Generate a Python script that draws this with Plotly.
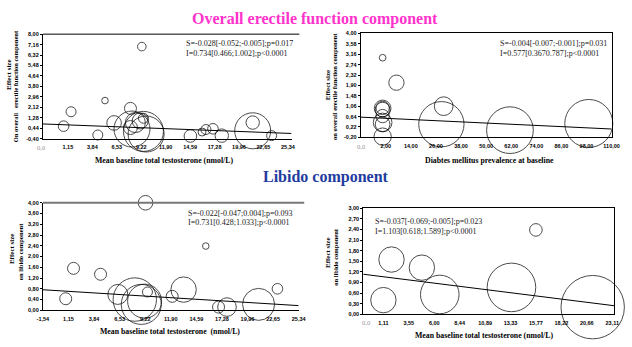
import plotly.graph_objects as go

W, H = 632, 347

# ---------------- data ----------------
# Panel 1: overall erectile function vs mean baseline testosterone
p1_x = [0.68, 1.50, 5.23, 4.44, 9.28, 6.23, 8.03, 8.20, 9.46, 9.75, 8.57, 9.10, 9.46, 8.03,
        14.62, 15.90, 16.33, 17.10, 18.07, 21.47, 21.47, 23.55]
p1_y = [0.60, 1.76, 2.66, -0.11, 7.00, 0.86, 2.03, 0.37, 0.18, -0.03, 0.89, 1.02, 1.24, 0.49,
        -0.19, 0.13, 0.33, 0.39, -0.16, 0.89, 0.23, -0.16]
p1_w = [10.6, 10, 6.6, 10, 8.6, 14.6, 12, 36, 40, 36, 20, 16, 10, 14,
        12.6, 8, 10, 10.6, 13.4, 13.4, 36, 10]
p1_xticks = [1.15, 3.84, 6.53, 9.22, 11.90, 14.59, 17.28, 19.96, 22.65, 25.34]
p1_xlabels = ["1,15", "3,84", "6,53", "9,22", "11,90", "14,59", "17,28", "19,96", "22,65", "25,34"]
p1_yticks = [-0.40, 0.44, 1.28, 2.12, 2.96, 3.80, 4.64, 5.48, 6.32, 7.16, 8.00]
p1_ylabels = ["-0,40", "0,44", "1,28", "2,12", "2,96", "3,80", "4,64", "5,48", "6,32", "7,16", "8,00"]

# Panel 2: overall erectile function vs diabetes prevalence
p2_x = [0.5, 7.1, 0.5, 0.5, 0.5, 0.5, 0.5, 0.5, 0.5, 29.7, 28.6, 61.4, 99.1]
p2_y = [3.02, 2.01, 0.97, 0.92, 0.99, 0.66, 0.40, 0.33, -0.17, 1.06, 0.33, 0.09, 0.36]
p2_w = [6.7, 15.3, 16.7, 14.7, 13.3, 13.3, 18.7, 14.7, 17.3, 18.7, 45.3, 46.7, 48]
p2_xticks = [2, 14, 26, 38, 50, 62, 74, 86, 98, 110]
p2_xlabels = ["2,00", "14,00", "26,00", "38,00", "50,00", "62,00", "74,00", "86,00", "98,00", "110,00"]
p2_yticks = [-0.20, 0.22, 0.64, 1.06, 1.48, 1.90, 2.32, 2.74, 3.16, 3.58, 4.00]
p2_ylabels = ["-0,20", "0,22", "0,64", "1,06", "1,48", "1,90", "2,32", "2,74", "3,16", "3,58", "4,00"]

# Panel 3: libido vs mean baseline testosterone
p3_x = [0.86, 1.68, 4.52, 9.25, 9.45, 6.34, 8.12, 8.80, 9.15, 12.05, 13.25, 15.58, 16.92, 17.81, 21.13, 23.11]
p3_y = [0.43, 1.56, 1.34, 4.00, 0.68, 0.59, 0.40, 0.22, 0.34, 0.52, 0.77, 2.39, 0.12, 0.12, 0.22, 0.80]
p3_w = [12, 12, 12, 14.6, 10, 20, 43.4, 40, 34, 12, 25.4, 6.6, 12, 18.6, 32, 10.6]
p3_xticks = [-1.54, 1.15, 3.84, 6.53, 9.22, 11.90, 14.59, 17.28, 19.96, 22.65, 25.34]
p3_xlabels = ["-1,54", "1,15", "3,84", "6,53", "9,22", "11,90", "14,59", "17,28", "19,96", "22,65", "25,34"]
p3_yticks = [0.0, 0.4, 0.8, 1.2, 1.6, 2.0, 2.4, 2.8, 3.2, 3.6, 4.0]
p3_ylabels = ["0,00", "0,40", "0,80", "1,20", "1,60", "2,00", "2,40", "2,80", "3,20", "3,60", "4,00"]

# Panel 4: libido vs mean baseline testosterone (subset)
p4_x = [1.11, 1.89, 4.81, 6.53, 13.42, 15.77, 21.23]
p4_y = [0.40, 1.55, 1.32, 0.56, 0.76, 2.39, 0.20]
p4_w = [25.4, 25.4, 25.4, 38.6, 48.6, 12.6, 63.4]
p4_xticks = [1.11, 3.55, 6.00, 8.44, 10.89, 13.33, 15.77, 18.22, 20.66, 23.11]
p4_xlabels = ["1,11", "3,55", "6,00", "8,44", "10,89", "13,33", "15,77", "18,22", "20,66", "23,11"]
p4_yticks = [0.0, 0.3, 0.6, 0.9, 1.2, 1.5, 1.8, 2.1, 2.4, 2.7, 3.0]
p4_ylabels = ["0,00", "0,30", "0,60", "0,90", "1,20", "1,50", "1,80", "2,10", "2,40", "2,70", "3,00"]

# meta-regression: intercepts and slopes
intercepts = [0.734, 0.577, 0.731, 1.103]
slopes = [-0.028, -0.004, -0.022, -0.037]
stats_S = ["S=-0.028[-0.052;-0.005];p=0.017", "S=-0.004[-0.007;-0.001];p=0.031",
           "S=-0.022[-0.047;0.004];p=0.093", "S=-0.037[-0.069;-0.005];p=0.023"]
stats_I = ["I=0.734[0.466;1.002];p<0.0001", "I=0.577[0.3670.787];p<0.0001",
           "I=0.731[0.428;1.033];p<0.0001", "I=1.103[0.618;1.589];p<0.0001"]
x_titles = ["Mean baseline total testosterone (nmol/L)", "Diabtes mellitus prevalence at baseline",
            "Mean baseline total testosterone  (nmol/L)", "Mean baseline total testosterone (nmol/L)"]
y_title1 = ["Effect size", "Effect size", "Effect size", "Effect size"]
y_title2 = ["On overall   erectile function component", "on overall erectile function component",
            "on libido component", "on libido component"]

# ---------------- layout geometry (pixels) ----------------
def px(x):
    return x / W

def py(y):
    return 1 - y / H

panels = [
    dict(x=p1_x, y=p1_y, w=p1_w, xt=p1_xticks, xl=p1_xlabels, yt=p1_yticks, yl=p1_ylabels,
         box=(37.7, 31.7, 292, 138), xr=[-1.6, 25.74], yr=[-0.40, 8.00], full=False),
    dict(x=p2_x, y=p2_y, w=p2_w, xt=p2_xticks, xl=p2_xlabels, yt=p2_yticks, yl=p2_ylabels,
         box=(362.7, 31, 619.3, 136.7), xr=[-10, 110], yr=[-0.20, 4.00], full=True),
    dict(x=p3_x, y=p3_y, w=p3_w, xt=p3_xticks, xl=p3_xlabels, yt=p3_yticks, yl=p3_ylabels,
         box=(37.7, 203.3, 299.3, 312.7), xr=[-1.54, 25.34], yr=[0, 4.0], full=False),
    dict(x=p4_x, y=p4_y, w=p4_w, xt=p4_xticks, xl=p4_xlabels, yt=p4_yticks, yl=p4_ylabels,
         box=(365.3, 209, 622, 316.7), xr=[-0.83, 23.3], yr=[0, 3.0], full=True),
]

fig = go.Figure()
layout = dict(width=W, height=H, margin=dict(l=0, r=0, t=0, b=0),
              paper_bgcolor="white", plot_bgcolor="white", showlegend=False)
annotations = []
shapes = []
SERIF = "Liberation Serif, Times New Roman, serif"
SANS = "Liberation Sans, Arial, sans-serif"

for i, p in enumerate(panels):
    k = "" if i == 0 else str(i + 1)
    xa, ya = "x" + k, "y" + k
    x0, y0, x1, y1 = p["box"]
    layout["xaxis" + k] = dict(
        domain=[px(x0), px(x1)], range=p["xr"], anchor=ya, showgrid=False, zeroline=False,
        showline=True, linecolor="black", linewidth=1, mirror=p["full"],
        tickmode="array", tickvals=p["xt"], ticktext=["<b>%s</b>" % t for t in p["xl"]],
        ticks="", ticklabelstandoff=3,
        tickfont=dict(family=SANS, size=5.5, color="black"))
    layout["yaxis" + k] = dict(
        domain=[py(y1), py(y0)], range=p["yr"], anchor=xa, showgrid=False, zeroline=False,
        showline=True, linecolor="black", linewidth=1, mirror=p["full"],
        tickmode="array", tickvals=p["yt"], ticktext=["<b>%s</b>" % t for t in p["yl"]],
        ticks="outside", ticklen=2,
        tickcolor="black", tickfont=dict(family=SANS, size=5.5, color="black"))
    # bubbles
    fig.add_trace(go.Scatter(
        x=p["x"], y=p["y"], mode="markers", xaxis=xa, yaxis=ya, cliponaxis=False,
        marker=dict(size=p["w"], sizemode="diameter", color="rgba(0,0,0,0)",
                    line=dict(color="black", width=1))))
    # regression line
    lx = [p["xr"][0], p["xr"][1]]
    ly = [intercepts[i] + slopes[i] * v for v in lx]
    fig.add_trace(go.Scatter(x=lx, y=ly, mode="lines", xaxis=xa, yaxis=ya,
                             line=dict(color="black", width=1)))

# top lines for the two left panels
shapes.append(dict(type="line", xref="paper", yref="paper", x0=px(37.7), x1=px(300),
                   y0=py(31.7), y1=py(31.7), line=dict(color="black", width=1)))
shapes.append(dict(type="line", xref="paper", yref="paper", x0=px(37.7), x1=px(305),
                   y0=py(203.3), y1=py(203.3), line=dict(color="#777777", width=2)))

# statistics text
stat_pos = [(182.7, 41.7), (504.3, 41.7), (185, 214.3), (376, 222.7)]
for i, (sx, sy) in enumerate(stat_pos):
    annotations.append(dict(x=px(sx), y=py(sy), xref="paper", yref="paper", xanchor="left",
                            yanchor="middle", showarrow=False, text=stats_S[i], borderpad=0,
                            font=dict(family=SERIF, size=8, color="#222222")))
    annotations.append(dict(x=px(sx), y=py(sy + 9.4), xref="paper", yref="paper", xanchor="left",
                            yanchor="middle", showarrow=False, text=stats_I[i], borderpad=0,
                            font=dict(family=SERIF, size=8, color="#222222")))

# axis titles
xt_pos = [(162, 160.7), (494, 160), (168, 334), (489.3, 338.3)]
for i, (tx, ty) in enumerate(xt_pos):
    annotations.append(dict(x=px(tx), y=py(ty), xref="paper", yref="paper", xanchor="center",
                            yanchor="middle", showarrow=False, text="<b>%s</b>" % x_titles[i],
                            font=dict(family=SERIF, size=7.8, color="black")))
yt_pos = [((3.3, 73), (10, 85)), ((328.7, 83.3), (336, 85)),
          ((5.5, 250), (14.3, 252.7)), ((328.7, 254), (336.7, 258))]
for i, (a, b) in enumerate(yt_pos):
    annotations.append(dict(x=px(a[0]), y=py(a[1]), xref="paper", yref="paper", xanchor="center",
                            yanchor="middle", showarrow=False, text="<b>%s</b>" % y_title1[i],
                            textangle=-90, font=dict(family=SERIF, size=7, color="black")))
    annotations.append(dict(x=px(b[0]), y=py(b[1]), xref="paper", yref="paper", xanchor="center",
                            yanchor="middle", showarrow=False, text="<b>%s</b>" % y_title2[i],
                            textangle=-90, font=dict(family=SERIF, size=6.5, color="black")))

# grey "0,0" origin labels
for (zx, zy) in [(36, 146.7), (362.7, 146), (367.7, 325)]:
    annotations.append(dict(x=px(zx), y=py(zy), xref="paper", yref="paper", xanchor="center",
                            yanchor="middle", showarrow=False, text="0,0",
                            font=dict(family=SERIF, size=6.5, color="#999999")))

# section titles
annotations.append(dict(x=px(316), y=py(16), xref="paper", yref="paper", xanchor="center",
                        yanchor="middle", showarrow=False,
                        text="<b>Overall erectile function component</b>",
                        font=dict(family=SERIF, size=16, color="#FF33CC")))
annotations.append(dict(x=px(327), y=py(177.5), xref="paper", yref="paper", xanchor="center",
                        yanchor="middle", showarrow=False, text="<b>Libido component</b>",
                        font=dict(family=SERIF, size=16, color="#1F3C9E")))

layout["annotations"] = annotations
layout["shapes"] = shapes
fig.update_layout(**layout)
fig.write_html("out.html", config={"displayModeBar": False},
               post_script="document.body.style.margin='0';document.body.style.padding='0';")
